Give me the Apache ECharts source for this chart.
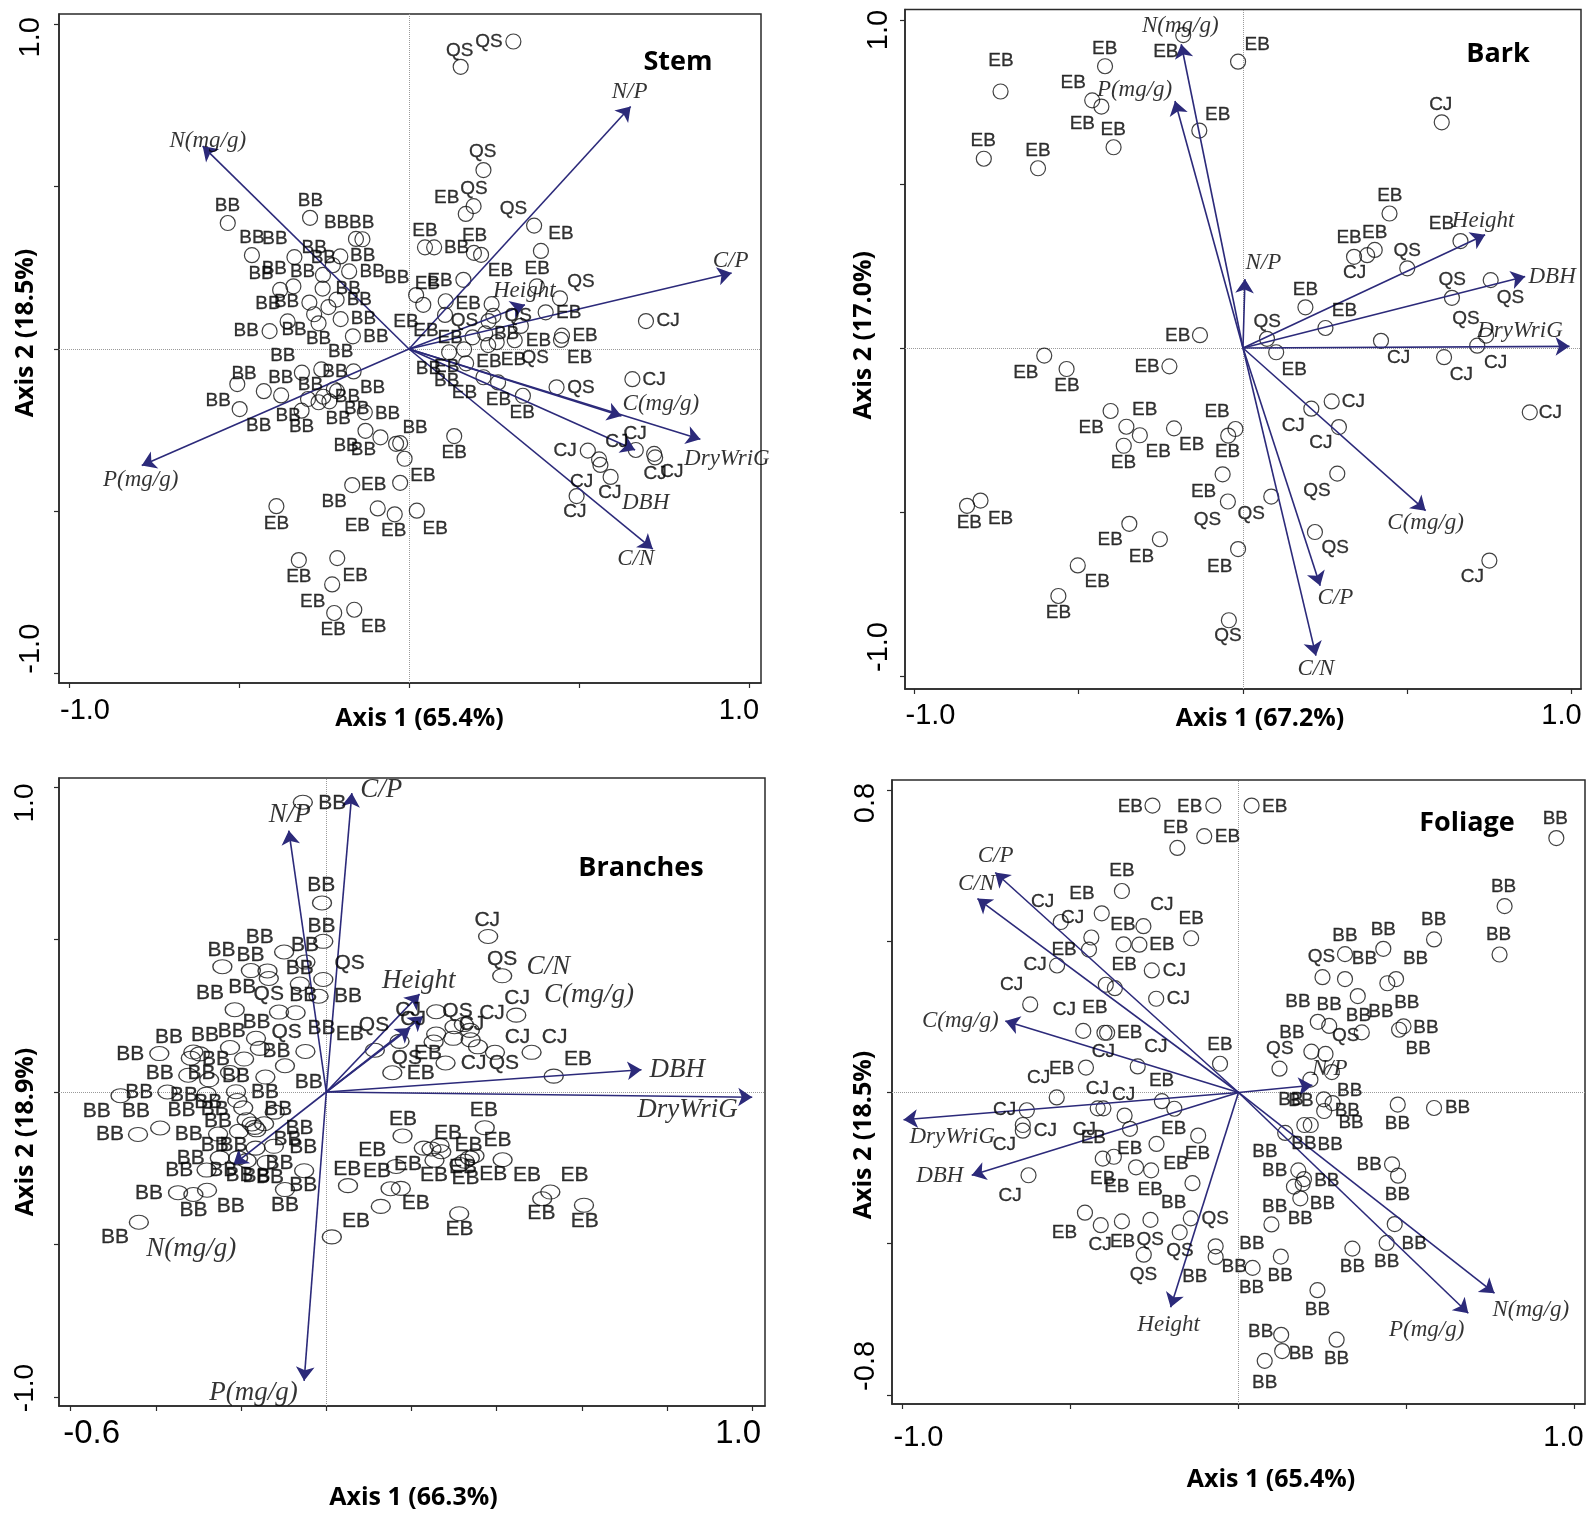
<!DOCTYPE html>
<html><head><meta charset="utf-8">
<style>html,body{margin:0;padding:0;background:#fff}#c{width:1589px;height:1518px}</style>
<script src="https://cdn.jsdelivr.net/npm/echarts@6/dist/echarts.min.js"></script>
</head><body><div id="c"></div>
<script>
// ---------- Stem ----------
const stemSamples=[[-.533,.388],[-.291,.404],[-.156,.339],[-.137,.338],[-.462,.289],[-.337,.283],[-.202,.285],[-.224,.258],[-.176,.239],[-.253,.228],[-.340,.193],[-.379,.182],[-.254,.186],[-.213,.152],[-.293,.143],[-.237,.129],[-.279,.107],[-.201,.092],[-.266,.079],[-.357,.085],[-.410,.055],[-.165,.039],[-.315,-.073],[-.258,-.063],[-.163,-.069],[-.505,-.108],[-.427,-.130],[-.376,-.143],[-.221,-.124],[-.212,-.130],[-.297,-.154],[-.252,-.147],[-.266,-.164],[-.234,-.161],[-.498,-.185],[-.316,-.190],[-.130,-.195],[-.128,-.252],[-.084,-.272],[-.038,-.292],
[.219,.551],[.190,.440],[.167,.416],[.368,.380],[.047,.313],[.074,.313],[.191,.296],[.212,.290],[.388,.302],[.160,.213],[.376,.193],[.021,.166],[.042,.136],[.108,.147],[.444,.156],[.243,.138],[.106,.105],[.402,.113],[.248,.102],[.234,.086],[.329,.071],[.697,.086],[.224,.048],[.187,.036],[.258,.021],[.233,.012],[.311,.027],[.450,.041],[.447,.028],[.162,-.001],[.118,-.010],[.168,-.044],[.219,-.087],[.262,-.103],[.335,-.144],[.434,-.118],[.657,-.093],[.133,-.268],[-.026,-.290],[-.013,-.338],[-.026,-.412],[.023,-.498],[.526,-.313],[.559,-.340],[.563,-.357],[.593,-.394],[.667,-.311],[.721,-.323],[.724,-.334],[.493,-.453],
[.307,.947],[.152,.869],[-.390,-.484],[-.324,-.650],[-.211,-.644],[-.226,-.725],[-.220,-.813],[-.161,-.803],[-.167,-.419],[-.092,-.491],[-.042,-.509]];
const stemBB=[[-.534,.440],[-.290,.458],[-.213,.390],[-.139,.390],[-.462,.343],[-.394,.338],[-.279,.313],[-.252,.280],[-.136,.286],[-.435,.233],[-.396,.246],[-.313,.238],[-.108,.238],[-.036,.220],[-.179,.184],[-.146,.151],[-.415,.139],[-.360,.144],[-.134,.092],[-.479,.055],[-.338,.058],[-.266,.031],[-.097,.037],[-.201,-.010],[-.371,-.022],[-.485,-.077],[-.218,-.069],[-.377,-.090],[-.290,-.109],[-.107,-.120],[-.181,-.147],[-.561,-.158],[-.154,-.185],[-.063,-.198],[-.355,-.205],[-.208,-.215],[-.316,-.240],[-.442,-.235],[-.185,-.299],[-.134,-.309],[.018,-.243],[-.220,-.469],[.287,.048],[.140,.312],[.057,-.062],[.111,-.098]];
const stemEB=[[.111,.467],[.047,.363],[.193,.348],[.447,.354],[.269,.240],[.377,.246],[.091,.210],[.054,.200],[.174,.138],[.470,.112],[-.009,.085],[.050,.056],[.121,.035],[.381,.024],[.518,.041],[.235,-.039],[.307,-.032],[.502,-.026],[.111,-.055],[.163,-.136],[.263,-.155],[.333,-.197],[.133,-.319],[.041,-.389],[-.104,-.419],[.077,-.553],[-.045,-.559],[-.152,-.544],[-.390,-.537],[-.324,-.700],[-.158,-.697],[-.283,-.778],[-.223,-.866],[-.104,-.856]];
const stemQS=[[.191,.492],[.307,.433],[.506,.207],[.163,.087],[.321,.102],[.371,-.026],[.506,-.118],[.149,.919],[.235,.947],[.217,.606]];
const stemCJ=[[.762,.086],[.721,-.095],[.665,-.260],[.611,-.285],[.459,-.313],[.724,-.385],[.773,-.378],[.508,-.409],[.591,-.444],[.488,-.501]];
const stemVarNames=['N(mg/g)','N/P','C/P','Height','C(mg/g)','DryWriG','DBH','C/N','P(mg/g)'];
const stemVarTips=[[-.607,.625],[.652,.747],[.949,.234],[.341,.136],[.625,-.206],[.857,-.278],[.665,-.311],[.717,-.616],[-.786,-.359]];
const stemVarText=[[-.592,.641],[.649,.791],[.946,.272],[.339,.178],[.741,-.169],[.935,-.338],[.696,-.475],[.667,-.647],[-.789,-.403]];
// ---------- Bark ----------
const barkSamples=[[.446,.410],[.662,.326],[.401,.299],[.378,.283],[.338,.278],[.500,.243],[.754,.207],[.636,.153],[.190,.124],[.251,.061],[-.131,.039],[.073,.028],[.420,.022],[.740,.038],[.713,.007],[.101,-.013],[.612,-.028],[-.605,-.023],[-.537,-.064],[-.224,-.056],[.270,-.163],[.208,-.185],[.292,-.241],[.873,-.196],[-.403,-.192],[-.355,-.240],[-.314,-.266],[-.210,-.245],[-.023,-.247],[-.045,-.267],[-.363,-.298],[-.062,-.385],[.287,-.383],
[-.738,.782],[-.420,.859],[-.459,.755],[-.431,.736],[-.394,.612],[-.789,.577],[-.624,.548],[-.182,.954],[-.015,.873],[-.133,.663],[.605,.688],
[.086,-.453],[-.046,-.468],[.219,-.561],[-.015,-.613],[.750,-.648],[-.043,-.830],[-.253,-.583],[-.346,-.536],[-.503,-.663],[-.562,-.756],[-.840,-.481],[-.799,-.465]];
const barkEB=[[.447,.464],[.401,.351],[.323,.336],[.604,.378],[.190,.178],[.309,.114],[-.199,.038],[.156,-.065],[-.292,-.057],[-.661,-.076],[-.536,-.115],[-.299,-.187],[-.079,-.195],[-.462,-.244],[-.258,-.316],[-.156,-.294],[-.047,-.316],[-.364,-.351],[-.737,.877],[-.421,.913],[-.517,.808],[-.489,.683],[-.395,.665],[-.791,.631],[-.624,.601],[.043,.923],[-.235,.904],[-.077,.712],[-.120,-.437],[-.404,-.586],[-.309,-.635],[-.071,-.666],[-.444,-.712],[-.562,-.808],[-.833,-.533],[-.738,-.521]];
const barkQS=[[.500,.296],[.074,.081],[.637,.207],[.814,.153],[.679,.089],[.025,-.505],[-.108,-.524],[.225,-.434],[.281,-.610],[-.046,-.876]];
const barkCJ=[[.340,.229],[.474,-.030],[.665,-.081],[.769,-.045],[.336,-.164],[.153,-.237],[.237,-.289],[.936,-.196],[.602,.741],[.698,-.697]];
const barkVarNames=['N(mg/g)','P(mg/g)','N/P','Height','DBH','DryWriG','C(mg/g)','C/P','C/N'];
const barkVarTips=[[-.188,.926],[-.207,.753],[.006,.210],[.737,.345],[.859,.218],[.994,.005],[.556,-.496],[.235,-.725],[.222,-.938]];
const barkVarText=[[-.191,.981],[-.330,.787],[.062,.258],[.731,.388],[.941,.218],[.843,.051],[.556,-.533],[.281,-.762],[.222,-.978]];
// ---------- Branches ----------
const branchSamples=[[-.010,.620],[-.007,.494],[-.099,.459],[-.049,.426],[-.244,.411],[-.177,.398],[-.138,.397],[-.135,.372],[-.007,.369],[-.062,.354],[-.018,.314],[-.215,.270],[-.111,.262],[-.072,.260],[-.165,.176],[-.226,.146],[-.156,.143],[-.312,.131],[-.297,.125],[-.318,.111],[-.392,.126],[-.049,.133],[-.193,.108],[-.097,.086],[-.226,.064],[-.324,.055],[-.275,.040],[-.143,.049],[-.212,.001],[-.373,0],[-.483,-.012],[-.281,-.007],[-.209,-.028],[-.195,-.052],[-.121,-.066],[-.187,-.091],[-.146,-.104],[-.175,-.105],[-.168,-.116],[-.164,-.124],[-.205,-.129],[-.254,-.138],[-.390,-.118],[-.442,-.139],[-.166,-.184],[-.123,-.178],[-.250,-.216],[-.207,-.216],[-.187,-.225],[-.140,-.231],[-.281,-.256],[-.052,-.258],[-.097,-.320],[-.348,-.330],[-.312,-.336],[-.280,-.322],[-.440,-.427],[.013,-.475],[-.055,.950],
[.380,.510],[.413,.381],[.446,.252],[.258,.263],[.301,.214],[.323,.221],[.337,.202],[.258,.190],[.252,.164],[.298,.176],[.339,.171],[.356,.148],[.396,.130],[.482,.130],[.172,.166],[.114,.137],[.280,.095],[.155,.063],[.534,.052],[.372,-.117],[.179,-.144],[.229,-.184],[.247,-.187],[.266,-.175],[.270,-.196],[.254,-.224],[.348,-.209],[.337,-.216],[.325,-.227],[.313,-.238],[.414,-.222],[.164,-.244],[.051,-.307],[.151,-.317],[.175,-.316],[.128,-.375],[.312,-.399],[.526,-.328],[.507,-.350],[.605,-.371]];
const branchBB=[[-.011,.545],[-.156,.508],[-.246,.465],[-.178,.450],[-.050,.481],[-.062,.407],[-.273,.325],[-.197,.343],[-.054,.316],[-.164,.228],[-.285,.186],[-.369,.180],[-.222,.199],[-.011,.208],[-.460,.125],[-.117,.133],[-.259,.106],[-.391,.062],[-.293,.060],[-.212,.051],[-.041,.033],[-.144,0],[-.439,0],[-.334,-.011],[-.539,-.063],[-.447,-.063],[-.340,-.059],[-.277,-.033],[-.262,-.056],[-.113,-.055],[-.254,-.096],[-.063,-.118],[-.508,-.138],[-.323,-.138],[-.091,-.154],[-.262,-.176],[-.218,-.176],[-.054,-.180],[-.318,-.218],[-.345,-.258],[-.110,-.235],[-.242,-.255],[-.204,-.273],[-.164,-.277],[-.132,-.279],[-.054,-.307],[-.416,-.331],[-.312,-.386],[-.224,-.373],[-.097,-.371],[-.496,-.475],[.014,.947],[-.012,.678],[.051,.314]];
const branchEB=[[.055,.188],[.239,.128],[.222,.062],[.591,.106],[.370,-.060],[.180,-.089],[.286,-.134],[.108,-.191],[.334,-.173],[.402,-.158],[.049,-.252],[.119,-.260],[.192,-.238],[.253,-.274],[.321,-.247],[.327,-.282],[.392,-.268],[.471,-.274],[.583,-.274],[.210,-.366],[.070,-.424],[.313,-.451],[.505,-.399],[.607,-.424]];
const branchQS=[[-.135,.320],[-.093,.197],[.413,.436],[.055,.423],[.112,.218],[.308,.266],[.189,.111],[.417,.095]];
const branchCJ=[[.378,.563],[.448,.307],[.192,.267],[.204,.239],[.389,.259],[.341,.221],[.449,.180],[.536,.180],[.346,.095]];
const branchVarNames=['C/P','N/P','Height','C(mg/g)','C/N','DBH','DryWriG','P(mg/g)','N(mg/g)'];
const branchVarTips=[[.060,.980],[-.088,.857],[.219,.321],[.227,.248],[.197,.210],[.740,.073],[1.0,-.017],[-.052,-.947],[-.218,-.238]];
const branchVarText=[[.129,.990],[-.086,.907],[.217,.365],[.617,.319],[.521,.409],[.824,.073],[.848,-.060],[-.171,-.987],[-.317,-.515]];
// ---------- Foliage ----------
const foliageSamples=[[-.182,.647],[-.102,.678],[-.347,.533],[-.407,.474],[-.529,.451],[-.283,.440],[-.141,.408],[-.438,.410],[-.445,.378],[-.342,.392],[-.295,.391],[-.540,.336],[-.258,.323],[-.395,.285],[-.368,.276],[-.245,.248],[-.620,.233],[-.462,.163],[-.399,.158],[-.391,.158],[-.300,.069],[-.055,.076],[-.454,.066],[-.541,-.013],[-.228,-.023],[-.191,-.043],[-.630,-.047],[-.419,-.042],[-.402,-.042],[-.339,-.061],[-.642,-.086],[-.642,-.101],[-.323,-.096],[-.120,-.114],[-.244,-.136],[-.404,-.175],[-.371,-.170],[-.305,-.198],[-.260,-.206],[-.625,-.219],[-.137,-.240],[-.457,-.318],[-.410,-.351],[-.347,-.341],[-.262,-.337],[-.142,-.333],[-.175,-.370],[-.068,-.407],[-.068,-.435],[-.282,-.429],
[-.256,.759],[-.075,.759],[.039,.759],
[.582,.405],[.431,.380],[.317,.366],[.250,.305],[.317,.300],[.443,.289],[.469,.300],[.355,.255],[.236,.187],[.270,.176],[.367,.159],[.491,.175],[.478,.166],[.217,.108],[.259,.102],[.122,.063],[.278,.054],[.214,.034],[.254,-.018],[.280,-.028],[.255,-.049],[.474,-.032],[.582,-.041],[.196,-.086],[.215,-.086],[.139,-.107],[.457,-.190],[.475,-.220],[.178,-.206],[.195,-.229],[.191,-.241],[.165,-.249],[.184,-.280],[.465,-.348],[.098,-.349],[.441,-.398],[.339,-.413],[.126,-.434],[.042,-.464],[.946,.673],[.792,.493],[.777,.365],[.235,-.523],[.130,-.684],[.127,-.641],[.292,-.654],[.078,-.710]];
const foliageEB=[[-.347,.587],[-.466,.527],[-.141,.460],[-.344,.445],[-.228,.392],[-.519,.377],[-.340,.337],[-.427,.224],[-.324,.158],[-.055,.127],[-.526,.064],[-.229,.031],[-.193,-.095],[-.432,-.119],[-.324,-.148],[-.122,-.163],[-.186,-.188],[-.404,-.228],[-.362,-.250],[-.263,-.258],[-.518,-.371],[-.345,-.395],[-.322,.756],[-.145,.756],[.108,.756],[-.187,.700],[-.033,.676]];
const foliageCJ=[[-.583,.504],[-.494,.463],[-.228,.496],[-.605,.337],[-.675,.284],[-.191,.322],[-.179,.249],[-.518,.218],[-.246,.121],[-.402,.108],[-.595,.040],[-.420,.011],[-.342,-.007],[-.696,-.047],[-.575,-.100],[-.459,-.098],[-.697,-.139],[-.680,-.272],[-.412,-.404]];
const foliageQS=[[-.069,-.333],[-.263,-.389],[-.174,-.419],[-.283,-.483],[.247,.360],[.123,.116],[.319,.151]];
const foliageBB=[[-.193,-.292],[.581,.457],[.431,.430],[.317,.415],[.375,.353],[.527,.353],[.177,.241],[.270,.232],[.357,.203],[.424,.213],[.501,.237],[.558,.172],[.535,.115],[.159,.159],[.331,.004],[.156,-.019],[.186,-.021],[.324,-.048],[.335,-.080],[.473,-.083],[.652,-.041],[.195,-.136],[.273,-.138],[.079,-.158],[.108,-.207],[.389,-.190],[.263,-.233],[.473,-.270],[.250,-.295],[.108,-.302],[.184,-.333],[.523,-.399],[.441,-.447],[.040,-.400],[-.013,-.460],[.339,-.462],[.124,-.484],[.943,.724],[.789,.544],[.774,.416],[-.130,-.488],[.039,-.517],[.235,-.574],[.066,-.633],[.187,-.692],[.292,-.705],[.078,-.767]];
const foliageVarNames=['C/P','C/N','C(mg/g)','DryWriG','DBH','Height','N/P','P(mg/g)','N(mg/g)'];
const foliageVarTips=[[-.724,.582],[-.777,.513],[-.694,.189],[-.997,-.072],[-.794,-.219],[-.202,-.568],[.220,.019],[.684,-.584],[.762,-.531]];
const foliageVarText=[[-.723,.625],[-.780,.552],[-.828,.188],[-.852,-.118],[-.889,-.220],[-.208,-.614],[.271,.062],[.560,-.627],[.870,-.576]];

const SANS='"Liberation Sans",Arial,sans-serif', BOLD='"Open Sans","Liberation Sans",sans-serif', SERIF='"Liberation Serif","Times New Roman",serif';
const NAVY='#2c2a7a', INK='#000';

const panels=[
 {title:'Stem',tx:673,ty:44,grid:[59,14,702,669],x:[-1.0294,1.0353],y:[-1.0286,1.0317],xt:[-1,-.5,0,.5,1],yt:[-1,-.5,0,.5,1],xl:[-1,1],yl:[-1,1],
  xn:'Axis 1 (65.4%)',yn:'Axis 2 (18.5%)',xnp:19,ynl:31,ynr:0,xm:13,ym:14,xg:23,yg:21,xsh:[32,20],ysh:[50,26],font:29,yfont:29,dot:[15,15],lab:19,vfont:23,
  samples:stemSamples,marks:{BB:stemBB,EB:stemEB,QS:stemQS,CJ:stemCJ},vn:stemVarNames,vt:stemVarTips,vl:stemVarText},
 {title:'Bark',tx:1493,ty:36,grid:[905,9.5,676,679.5],x:[-1.0289,1.0289],y:[-1.0396,1.032],xt:[-1,-.5,0,.5,1],yt:[-1,-.5,0,.5,1],xl:[-1,1],yl:[-1,1],
  xn:'Axis 1 (67.2%)',yn:'Axis 2 (17.0%)',xnp:34,ynl:28,ynr:0,xm:12,ym:12,xg:17,yg:29,xsh:[32,20],ysh:[58,20],font:29,yfont:29,dot:[15,15],lab:19,vfont:23,
  samples:barkSamples,marks:{EB:barkEB,QS:barkQS,CJ:barkCJ},vn:barkVarNames,vt:barkVarTips,vl:barkVarText},
 {title:'Branches',tx:636,ty:850,grid:[59,778,706,628],x:[-.6275,1.0300],y:[-1.0295,1.0295],xt:[-.6,-.4,-.2,0,.2,.4,.6,.8,1],yt:[-1,-.5,0,.5,1],xl:[-.6,1],yl:[-1,1],
  xn:'Axis 1 (66.3%)',yn:'Axis 2 (18.9%)',xnp:3,ynl:0,ynr:80,xm:11,ym:20,xg:79,yg:21,xsh:[42,28],ysh:[18,32],font:33,yfont:28,dot:[19,14],lab:21,vfont:27,
  samples:branchSamples,marks:{BB:branchBB,EB:branchEB,QS:branchQS,CJ:branchCJ},vn:branchVarNames,vt:branchVarTips,vl:branchVarText},
 {title:'Foliage',tx:1462,ty:805,grid:[892,780,693,624],x:[-1.0313,1.0313],y:[-.8241,.8267],xt:[-1,-.5,0,.5,1],yt:[-.8,-.4,0,.4,.8],xl:[-1,1],yl:[-.8,.8],
  xn:'Axis 1 (65.4%)',yn:'Axis 2 (18.5%)',xnp:65,ynl:0,ynr:86,xm:19,ym:12,xg:63,yg:16,xsh:[32,22],ysh:[58,26],font:29,yfont:29,dot:[15,15],lab:19,vfont:23,
  samples:foliageSamples,marks:{EB:foliageEB,CJ:foliageCJ,QS:foliageQS,BB:foliageBB},vn:foliageVarNames,vt:foliageVarTips,vl:foliageVarText}
];

const option={animation:false,backgroundColor:'#fff',title:[],grid:[],xAxis:[],yAxis:[],series:[]};
panels.forEach((p,i)=>{
  option.title.push({text:p.title,left:p.tx,top:p.ty,textAlign:'center',textStyle:{fontFamily:BOLD,fontWeight:'bold',fontSize:27,color:INK}});
  option.grid.push({left:p.grid[0],top:p.grid[1],width:p.grid[2],height:p.grid[3],show:true,borderColor:'#2a2a2a',borderWidth:1.5,backgroundColor:'#fff',containLabel:false,outerBoundsMode:'none'});
  const axis=(range,ticks,labels,shift,margin,isY,font)=>({
    type:'value',min:range[0],max:range[1],
    axisLine:{show:true,onZero:false,lineStyle:{color:'#2a2a2a',width:1.5}},
    splitLine:{show:false},
    axisTick:{show:true,length:5,customValues:ticks,lineStyle:{color:'#2a2a2a',width:1.2}},
    axisLabel:{show:true,customValues:labels,margin,rotate:isY?90:0,color:INK,fontFamily:SANS,fontSize:font,
      formatter:v=>(v<0?'{a|':'{b|')+v.toFixed(1)+'}',
      rich:{a:{fontFamily:SANS,fontSize:font,color:INK,padding:[0,0,0,shift[0]]},b:{fontFamily:SANS,fontSize:font,color:INK,padding:[0,shift[1],0,0]}}}
  });
  const xa=axis(p.x,p.xt,p.xl,p.xsh,p.xm,false,p.font);
  Object.assign(xa,{gridIndex:i,name:p.xn,nameLocation:'middle',nameGap:p.xg,nameMoveOverlap:false,nameTextStyle:{fontFamily:BOLD,fontWeight:'bold',fontSize:25,color:INK,padding:[0,0,0,p.xnp]}});
  option.xAxis.push(xa);
  const ya=axis(p.y,p.yt,p.yl,p.ysh,p.ym,true,p.yfont);
  Object.assign(ya,{gridIndex:i,name:p.yn,nameLocation:'middle',nameGap:p.yg,nameMoveOverlap:false,nameTextStyle:{fontFamily:BOLD,fontWeight:'bold',fontSize:25,color:INK,padding:[0,p.ynr,0,p.ynl]}});
  option.yAxis.push(ya);

  option.series.push({type:'scatter',name:p.title+' samples',xAxisIndex:i,yAxisIndex:i,data:p.samples,z:3,symbol:'circle',symbolSize:p.dot,silent:true,
    itemStyle:{color:'rgba(255,255,255,0)',borderColor:'#111',borderWidth:1.2},
    markLine:{silent:true,symbol:'none',label:{show:false},lineStyle:{color:'#9a9a9a',type:'dotted',width:1},data:[{xAxis:0},{yAxis:0}],z:1}});
  Object.keys(p.marks).forEach(k=>{
    option.series.push({type:'scatter',name:p.title+' '+k,xAxisIndex:i,yAxisIndex:i,data:p.marks[k],z:5,symbolSize:1,silent:true,
      itemStyle:{color:'rgba(0,0,0,0)'},
      label:{show:true,position:'inside',formatter:k,color:INK,fontFamily:SANS,fontSize:p.lab,textBorderColor:'#000',textBorderWidth:0.3}});
  });
  option.series.push({type:'lines',name:p.title+' vectors',coordinateSystem:'cartesian2d',xAxisIndex:i,yAxisIndex:i,z:4,silent:true,
    symbol:['none','arrow'],symbolSize:[0,14],lineStyle:{color:NAVY,width:1.6,opacity:1,curveness:0},
    data:p.vt.map(t=>({coords:[[0,0],t]}))});
  option.series.push({type:'scatter',name:p.title+' vector names',xAxisIndex:i,yAxisIndex:i,z:6,symbolSize:1,silent:true,
    itemStyle:{color:'rgba(0,0,0,0)'},
    data:p.vl.map((c,j)=>({value:c,name:p.vn[j]})),
    label:{show:true,position:'inside',formatter:'{b}',color:'#000',fontFamily:SERIF,fontStyle:'italic',fontSize:p.vfont}});
});
echarts.init(document.getElementById('c'),null,{renderer:'canvas'}).setOption(option);
</script>
</body></html>
